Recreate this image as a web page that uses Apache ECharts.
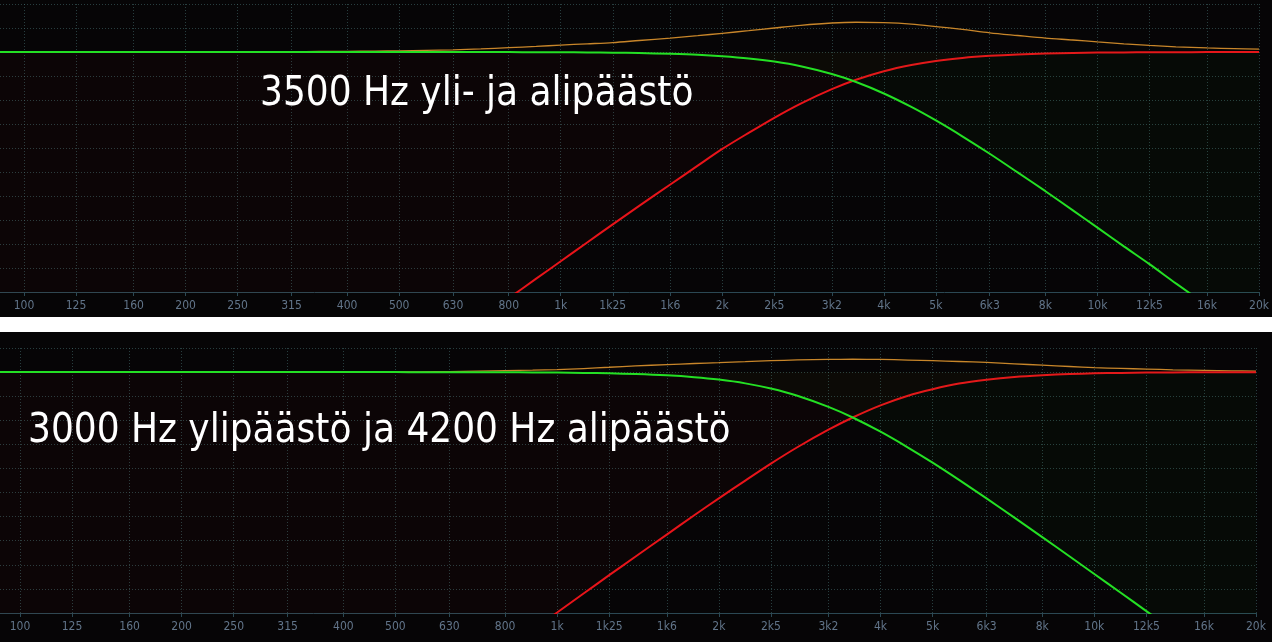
<!DOCTYPE html>
<html>
<head>
<meta charset="utf-8">
<script src="https://cdn.jsdelivr.net/npm/echarts@6/dist/echarts.min.js"></script>
<style>
html,body{margin:0;padding:0;background:#060506;}
#c{width:1272px;height:642px;}
</style>
</head>
<body>
<div id="c"></div>
<script>
// Frequencies (Hz) at which the curves were read (about 1/6 octave apart)
const freqs = [90,100,112,125,140,160,180,200,224,250,280,315,355,400,450,500,560,630,710,800,900,1000,1120,1250,1400,1600,1800,2000,2240,2500,2800,3200,3550,4000,4500,5000,5600,6300,7100,8000,9000,10000,11200,12500,14000,16000,18000,20000];

// Top panel: 3500 Hz high- and low-pass (dB)
const topLow  = [0,0,0,0,0,0,0,0,0,0,0,0,0,0,-0.001,-0.002,-0.003,-0.005,-0.007,-0.012,-0.019,-0.03,-0.045,-0.07,-0.11,-0.19,-0.29,-0.44,-0.67,-1.0,-1.49,-2.3,-3.13,-4.32,-5.72,-7.13,-8.78,-10.6,-12.54,-14.5,-16.5,-18.3,-20.25,-22.1,-24.1,-26.4,-28.45,-30.3];
const topHigh = [-63.6,-61.8,-59.8,-57.9,-55.9,-53.6,-51.55,-49.7,-47.75,-45.85,-43.9,-41.8,-39.75,-37.7,-35.6,-33.8,-31.85,-29.8,-27.72,-25.65,-23.61,-21.8,-19.84,-17.96,-16.03,-13.8,-11.84,-10.1,-8.42,-6.85,-5.37,-3.87,-2.89,-2.0,-1.35,-0.93,-0.62,-0.4,-0.25,-0.16,-0.1,-0.065,-0.041,-0.027,-0.017,-0.01,-0.006,-0.004];
const topSum  = [0,0,0,0,0,0,0.005,0.01,0.015,0.02,0.03,0.04,0.055,0.07,0.09,0.12,0.16,0.22,0.32,0.45,0.58,0.72,0.85,0.98,1.2,1.45,1.7,1.95,2.22,2.5,2.78,3.02,3.1,3.05,2.9,2.65,2.35,2.0,1.72,1.45,1.25,1.05,0.85,0.68,0.54,0.42,0.35,0.3];

// Bottom panel: 3000 Hz / 4200 Hz (dB)
const botLow  = [0,0,0,0,0,0,0,0,0,0,0,0,0,-0.001,-0.002,-0.003,-0.005,-0.008,-0.014,-0.022,-0.035,-0.053,-0.084,-0.129,-0.2,-0.338,-0.53,-0.78,-1.17,-1.71,-2.45,-3.61,-4.71,-6.19,-7.83,-9.4,-11.19,-13.11,-15.1,-17.12,-19.14,-20.95,-22.9,-24.8,-26.77,-29.1,-31.13,-32.96];
const botHigh = [-66.8,-64.9,-62.96,-61.1,-59.08,-56.8,-54.72,-52.9,-50.92,-49.0,-47.04,-45.0,-42.92,-40.85,-38.8,-36.97,-35.0,-32.96,-30.89,-28.8,-26.76,-24.95,-22.98,-21.07,-19.14,-16.86,-14.86,-13.1,-11.26,-9.5,-7.8,-5.98,-4.71,-3.45,-2.45,-1.78,-1.19,-0.79,-0.5,-0.32,-0.2,-0.13,-0.085,-0.055,-0.035,-0.02,-0.012,-0.01];
const botSum  = [0,0,0,0,0,0,0,0,0,0,0,0,0.005,0.01,0.015,0.02,0.03,0.05,0.09,0.15,0.2,0.26,0.37,0.5,0.64,0.78,0.89,0.98,1.08,1.18,1.26,1.32,1.33,1.31,1.25,1.18,1.1,1.0,0.86,0.72,0.58,0.46,0.38,0.31,0.24,0.18,0.13,0.1];

// Axis ticks
const tickValues = [100,125,160,200,250,315,400,500,630,800,1000,1250,1600,2000,2500,3200,4000,5000,6300,8000,10000,12500,16000,20000];
const tickLabels = ['100','125','160','200','250','315','400','500','630','800','1k','1k25','1k6','2k','2k5','3k2','4k','5k','6k3','8k','10k','12k5','16k','20k'];

const titles = ['3500 Hz yli- ja alipäästö', '3000 Hz ylipäästö ja 4200 Hz alipäästö'];

function zip(a){ return freqs.map((f,i)=>[f,a[i]]); }
function fmt(v){
  for (let i=0;i<tickValues.length;i++){
    if (Math.abs(v - tickValues[i]) / tickValues[i] < 0.01) return tickLabels[i];
  }
  return '';
}

const chart = echarts.init(document.getElementById('c'), null, {renderer:'canvas'});
const gridLine = {show:true, lineStyle:{color:'rgba(70,110,112,0.55)', width:1, type:[1,2]}};
const labelFont = "'DejaVu Sans Condensed','DejaVu Sans',sans-serif";

function xAxis(gi, min, max){
  return {
    type:'log', logBase:10, gridIndex:gi, min:min, max:max,
    axisLine:{show:true, onZero:false, lineStyle:{color:'#2b4853', width:1}},
    axisTick:{show:true, length:4, customValues: tickValues, lineStyle:{color:'#2b4853'}},
    axisLabel:{show:true, customValues: tickValues, formatter: fmt, color:'#62758a', fontSize:12, fontFamily: labelFont, margin:8},
    splitLine: gridLine,
    minorTick:{show:false}, minorSplitLine:{show:false}
  };
}
function yAxis(gi, min, max){
  return {
    type:'value', gridIndex:gi, min:min, max:max, interval:2.5,
    axisLine:{show:false}, axisTick:{show:false}, axisLabel:{show:false},
    splitLine: gridLine
  };
}
function lineSeries(idx, data, color, width, fill, z){
  const s = {
    type:'line', xAxisIndex:idx, yAxisIndex:idx, data: zip(data),
    showSymbol:false, symbol:'none', smooth:0.3,
    lineStyle:{color:color, width:width}, z:z, silent:true, clip:true
  };
  if (fill) s.areaStyle = {origin:0, color:fill};
  return s;
}

const option = {
  backgroundColor:'#060506',
  animation:false,
  grid:[
    {left:0, top:4, width:1260, height:288},
    {left:0, top:348, width:1256, height:265}
  ],
  xAxis:[ xAxis(0, 90.2, 20000), xAxis(1, 91.8, 20000) ],
  yAxis:[ yAxis(0, -25, 5), yAxis(1, -25, 2.5) ],
  series:[
    lineSeries(0, topSum,  '#c8862a', 1.3, null, 3),
    lineSeries(0, topHigh, '#e8141a', 2, 'rgba(255,30,30,0.04)', 4),
    lineSeries(0, topLow,  '#24e024', 2, 'rgba(30,255,30,0.03)', 5),
    lineSeries(1, botSum,  '#c8862a', 1.3, null, 3),
    lineSeries(1, botHigh, '#e8141a', 2, 'rgba(255,30,30,0.04)', 4),
    lineSeries(1, botLow,  '#24e024', 2, 'rgba(30,255,30,0.03)', 5)
  ],
  graphic:[
    {type:'rect', shape:{x:0, y:317, width:1272, height:15}, style:{fill:'#ffffff'}, z:100, silent:true},
    {type:'text', x:260, y:95, z:100, silent:true, style:{text:titles[0], fill:'#ffffff', font:"40px 'DejaVu Sans Condensed','DejaVu Sans',sans-serif", verticalAlign:'middle', align:'left'}},
    {type:'text', x:28, y:432, z:100, silent:true, style:{text:titles[1], fill:'#ffffff', font:"40px 'DejaVu Sans Condensed','DejaVu Sans',sans-serif", verticalAlign:'middle', align:'left'}}
  ]
};
chart.setOption(option);
</script>
</body>
</html>
